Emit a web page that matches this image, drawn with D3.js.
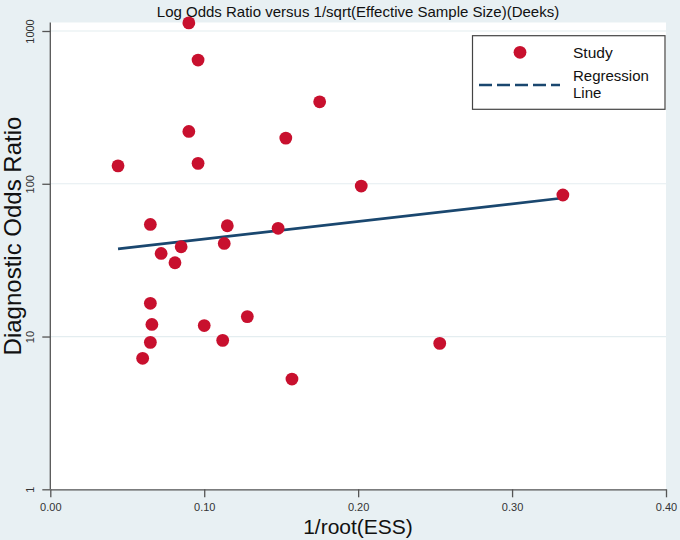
<!DOCTYPE html>
<html>
<head>
<meta charset="utf-8">
<title>Deeks funnel plot</title>
<script src="https://d3js.org/d3.v7.min.js"></script>
<style>
  body { margin: 0; background: #e8f0f3; }
  svg { display: block; font-family: "Liberation Sans", Arial, sans-serif; }
</style>
</head>
<body>
<div id="chart"></div>
<script>
// study values: 1/root(ESS) and diagnostic odds ratio
var essInv = [0.090, 0.096, 0.175, 0.090, 0.153, 0.096, 0.044, 0.202, 0.333,
              0.065, 0.115, 0.148, 0.085, 0.113, 0.072, 0.081, 0.065, 0.128,
              0.066, 0.100, 0.065, 0.112, 0.253, 0.060, 0.157];
var dor = [1130, 645, 344, 220, 199, 136, 131, 96.6, 84.4,
           54.2, 53.1, 51.1, 38.7, 40.7, 35.0, 30.4, 16.5, 13.5,
           12.0, 11.8, 9.16, 9.44, 9.02, 7.20, 5.27];

// fitted regression line end points
var regX = [0.044, 0.333];
var regY = [37.5, 80.6];

var xTicks = [0, 0.1, 0.2, 0.3, 0.4];
var yTicks = [1, 10, 100, 1000];

var W = 680, H = 540;
var plot = { left: 50.3, right: 666, top: 22.5, bottom: 489.3 };

var svg = d3.select("#chart").append("svg")
    .attr("width", W)
    .attr("height", H);

svg.append("rect")
    .attr("width", W).attr("height", H)
    .attr("fill", "#e8f0f3");

var x = d3.scaleLinear()
    .domain([0, 0.4])
    .range([plot.left, plot.right]);

var y = d3.scaleLog()
    .domain([1, 1000])
    .range([plot.bottom, 31]);

// plot region
svg.append("rect")
    .attr("x", plot.left)
    .attr("y", plot.top)
    .attr("width", plot.right - plot.left)
    .attr("height", plot.bottom - plot.top)
    .attr("fill", "#ffffff");

// grid lines
svg.append("g")
    .selectAll("line")
    .data(yTicks.slice(1))
    .enter().append("line")
    .attr("x1", plot.left)
    .attr("x2", plot.right)
    .attr("y1", function (d) { return y(d); })
    .attr("y2", function (d) { return y(d); })
    .attr("stroke", "#e4edf0")
    .attr("stroke-width", 1.2);

// title
svg.append("text")
    .attr("x", 358)
    .attr("y", 17)
    .attr("text-anchor", "middle")
    .style("font-size", "15px")
    .attr("fill", "#111")
    .text("Log Odds Ratio versus 1/sqrt(Effective Sample Size)(Deeks)");

// x axis
var xAxis = svg.append("g")
    .attr("transform", "translate(0," + plot.bottom + ")")
    .call(d3.axisBottom(x)
        .tickValues(xTicks)
        .tickFormat(d3.format(".2f"))
        .tickSize(8)
        .tickSizeOuter(0));
xAxis.select(".domain").attr("stroke", "#555").attr("stroke-width", 1.3);
xAxis.selectAll(".tick line").attr("stroke", "#555").attr("stroke-width", 1.3);
xAxis.selectAll(".tick text")
    .attr("y", 14)
    .attr("dy", "0.71em")
    .style("font-size", "11px")
    .style("font-family", "'Liberation Sans', Arial, sans-serif")
    .attr("fill", "#333");

// y axis
var yAxis = svg.append("g")
    .attr("transform", "translate(" + plot.left + ",0)")
    .call(d3.axisLeft(y)
        .tickValues(yTicks)
        .tickFormat(d3.format("d"))
        .tickSize(8)
        .tickSizeOuter(0));
yAxis.select(".domain").remove();
yAxis.selectAll(".tick line").attr("stroke", "#555").attr("stroke-width", 1.3);
yAxis.selectAll(".tick text")
    .attr("x", null).attr("dy", null)
    .attr("transform", "translate(-16,0) rotate(-90)")
    .attr("text-anchor", "middle")
    .style("font-size", "11px")
    .style("font-family", "'Liberation Sans', Arial, sans-serif")
    .attr("fill", "#333");
svg.append("line")
    .attr("x1", plot.left).attr("x2", plot.left)
    .attr("y1", plot.top).attr("y2", plot.bottom)
    .attr("stroke", "#555").attr("stroke-width", 1.3);

// axis titles
svg.append("text")
    .attr("x", 358)
    .attr("y", 534)
    .attr("text-anchor", "middle")
    .style("font-size", "21px")
    .attr("fill", "#111")
    .text("1/root(ESS)");

svg.append("text")
    .attr("transform", "translate(21,236) rotate(-90)")
    .attr("text-anchor", "middle")
    .style("font-size", "24px")
    .attr("fill", "#111")
    .text("Diagnostic Odds Ratio");

// regression line
var line = d3.line()
    .x(function (d) { return x(d[0]); })
    .y(function (d) { return y(d[1]); });
svg.append("path")
    .datum(d3.zip(regX, regY))
    .attr("d", line)
    .attr("fill", "none")
    .attr("stroke", "#1a476f")
    .attr("stroke-width", 2.6);

// study points
svg.append("g")
    .selectAll("circle")
    .data(d3.zip(essInv, dor))
    .enter().append("circle")
    .attr("cx", function (d) { return x(d[0]); })
    .attr("cy", function (d) { return y(d[1]); })
    .attr("r", 6.4)
    .attr("fill", "#c8102e");

// legend
var lg = svg.append("g");
lg.append("rect")
    .attr("x", 472.5).attr("y", 35.7)
    .attr("width", 192.5).attr("height", 73.6)
    .attr("fill", "#fff")
    .attr("stroke", "#444")
    .attr("stroke-width", 1.2);
lg.append("circle")
    .attr("cx", 520).attr("cy", 52.3).attr("r", 6.4)
    .attr("fill", "#c8102e");
lg.append("text")
    .attr("x", 573).attr("y", 58)
    .style("font-size", "15.5px")
    .attr("fill", "#111")
    .text("Study");
lg.append("line")
    .attr("x1", 479).attr("x2", 560)
    .attr("y1", 85).attr("y2", 85)
    .attr("stroke", "#1a476f")
    .attr("stroke-width", 2.6)
    .attr("stroke-dasharray", "13,5");
var lt = lg.append("text")
    .style("font-size", "15px")
    .attr("fill", "#111");
lt.append("tspan").attr("x", 573).attr("y", 81).text("Regression");
lt.append("tspan").attr("x", 573).attr("y", 98).text("Line");
</script>
</body>
</html>
